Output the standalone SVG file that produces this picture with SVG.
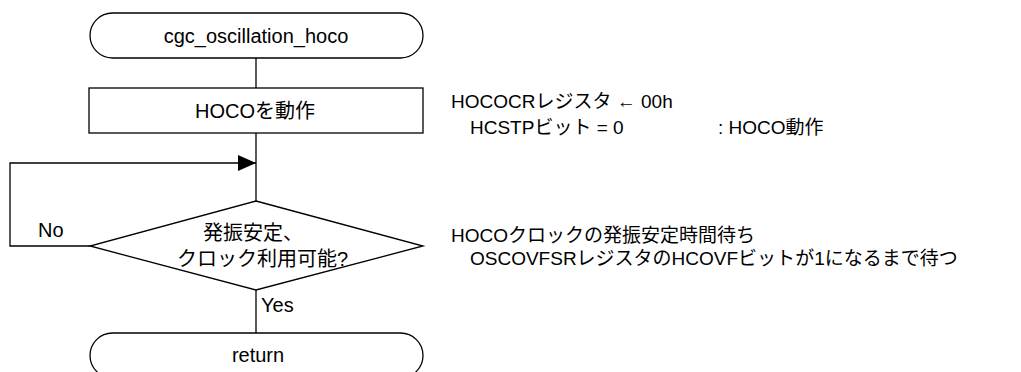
<svg xmlns="http://www.w3.org/2000/svg" width="1021" height="372" viewBox="0 0 1021 372">
<style>
.s{fill:#fff;stroke:#000;stroke-width:1.3}
.l{fill:none;stroke:#000;stroke-width:1.3}
text{font-family:"Liberation Sans","Noto Sans CJK JP",sans-serif;font-size:20px;fill:#000}
.n{font-size:19px}
.c{text-anchor:middle}
</style>
<defs>
<marker id="ah" markerWidth="18" markerHeight="16" refX="18" refY="8" orient="auto" markerUnits="userSpaceOnUse">
<path d="M0,0 L18,8 L0,16 Z" fill="#000"/>
</marker>
</defs>
<g id="connectors">
<line class="l" x1="256" y1="58" x2="256" y2="88"/>
<line class="l" x1="256" y1="133" x2="256" y2="201"/>
<polyline class="l" points="90,246 10,246 10,163 256,163" marker-end="url(#ah)"/>
<line class="l" x1="256" y1="290" x2="256" y2="333"/>
</g>
<g id="start">
<rect class="s" x="90" y="13" width="333" height="45" rx="22.5" ry="22.5"/>
<text class="c" x="256" y="43">cgc_oscillation_hoco</text>
</g>
<g id="hoco_on">
<rect class="s" x="89" y="88" width="334" height="45"/>
<text class="c" x="255" y="118">HOCOを動作</text>
</g>
<g id="decision">
<polygon class="s" points="256,201 423,246 256,290 90,246"/>
<text x="203" y="240">発振安定、</text>
<text x="177" y="266">クロック利用可能?</text>
<text x="38" y="237">No</text>
<text x="261" y="312">Yes</text>
</g>
<g id="return">
<rect class="s" x="90" y="333" width="333" height="45" rx="22.5" ry="22.5"/>
<text class="c" x="258" y="362">return</text>
</g>
<g id="notes">
<text class="n" x="451" y="108">HOCOCRレジスタ ← 00h</text>
<text class="n" x="470" y="134">HCSTPビット = 0</text>
<text class="n" x="718" y="134">: HOCO動作</text>
<text class="n" x="451" y="242">HOCOクロックの発振安定時間待ち</text>
<text class="n" x="470" y="265">OSCOVFSRレジスタのHCOVFビットが1になるまで待つ</text>
</g>
</svg>
